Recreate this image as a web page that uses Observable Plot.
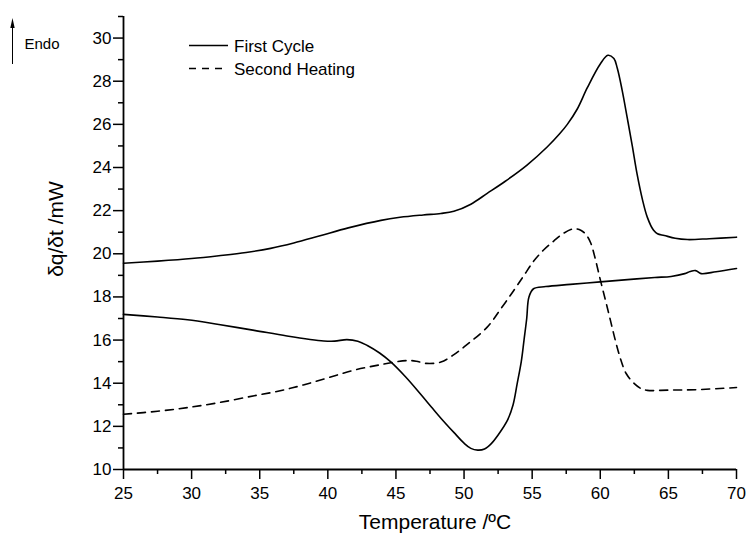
<!DOCTYPE html>
<html>
<head>
<meta charset="utf-8">
<script src="https://cdn.jsdelivr.net/npm/d3@7"></script>
<script src="https://cdn.jsdelivr.net/npm/@observablehq/plot@0.6"></script>
<style>
  html, body { margin: 0; padding: 0; background: #fff; }
  svg { display: block; }
</style>
</head>
<body>
<div id="chart"></div>
<script>
// Temperature (°C) / heat flow (mW) pairs
const firstCycleHeating = [
  [25,19.56],[27.5,19.66],[30,19.78],[32,19.91],[34,20.06],[35.8,20.25],[37.5,20.5],
  [39.5,20.85],[41.5,21.2],[43.9,21.55],[45.3,21.69],[47,21.8],[48.3,21.87],[49.25,21.97],
  [50.5,22.3],[51.7,22.8],[53,23.35],[54.6,24.1],[56.1,24.95],[57,25.55],[57.58,26.0],[58.3,26.7],
  [59.05,27.7],[60,28.8],[60.56,29.2],[61.0,29.05],[61.25,28.6],[61.6,27.6],[61.98,26.3],
  [62.35,25.0],[62.7,23.7],[63.1,22.5],[63.45,21.7],[63.9,21.1],[64.2,20.93],[64.7,20.85],
  [65.5,20.72],[66.4,20.66],[68,20.7],[70,20.77]
];
const firstCycleCooling = [
  [25,17.19],[27.5,17.07],[29.7,16.94],[32,16.72],[34.6,16.45],[37,16.19],[39.7,15.96],
  [40.5,15.95],[41.4,16.02],[42.2,15.95],[42.9,15.75],[43.8,15.4],[44.6,15.0],[45.7,14.3],
  [46.8,13.5],[47.6,12.9],[48.3,12.38],[49.25,11.72],[50,11.22],[50.5,10.98],[51,10.9],
  [51.5,10.95],[52,11.2],[52.5,11.6],[53.2,12.3],[53.6,13.0],[53.9,13.98],[54.2,15.0],[54.4,15.99],
  [54.6,17.0],[54.76,17.99],[55.1,18.38],[56,18.48],[57.8,18.58],[60,18.7],[62,18.8],
  [64,18.9],[65.2,18.95],[66.2,19.08],[66.6,19.18],[67,19.22],[67.4,19.08],[68.5,19.17],[70,19.32]
];
const secondHeating = [
  [25,12.56],[27.5,12.7],[29.7,12.87],[32,13.1],[34.6,13.42],[36.5,13.65],[38.2,13.92],
  [40,14.25],[41.9,14.6],[43.8,14.85],[45.8,15.05],[46.5,15.02],[47.2,14.92],[48.3,14.98],
  [49.2,15.3],[50,15.68],[51.7,16.6],[52.7,17.45],[53.65,18.3],[54.4,19.0],[55.1,19.65],
  [55.8,20.15],[56.6,20.6],[57.3,20.95],[58.06,21.16],[58.6,21.08],[59.0,20.85],[59.3,20.5],
  [59.6,19.85],[60,18.8],[60.4,17.8],[60.75,16.9],[61.1,16.0],[61.5,15.1],[61.9,14.45],
  [62.5,13.98],[63,13.75],[63.45,13.67],[65,13.68],[67,13.7],[70,13.8]
];

const xMajorTicks = [25,30,35,40,45,50,55,60,65,70];
const xMinorTicks = [27.5,32.5,37.5,42.5,47.5,52.5,57.5,62.5,67.5];
const yMajorTicks = [10,12,14,16,18,20,22,24,26,28,30];
const yMinorTicks = [11,13,15,17,19,21,23,25,27,29,31];

const xTitle = "Temperature /ºC";
const yTitle = "δq/δt /mW";
const legendLabels = ["First Cycle", "Second Heating"];
const endoLabel = "Endo";

const FONT = "'Liberation Sans', Arial, sans-serif";
const W = 748, H = 538;
const mL = 123, mR = 12, mT = 16, mB = 69;

const lineOpts = {x: d => d[0], y: d => d[1], stroke: "black", strokeWidth: 1.6, curve: "catmull-rom"};

const svg = Plot.plot({
  width: W, height: H,
  marginLeft: mL, marginRight: mR, marginTop: mT, marginBottom: mB,
  style: {fontFamily: FONT, background: "white", color: "black"},
  x: {domain: [25, 70], label: null},
  y: {domain: [10, 31], label: null},
  marks: [
    Plot.axisX({ticks: xMajorTicks, tickSize: 10, tickPadding: 7, fontSize: 17, strokeWidth: 1.5, label: null}),
    Plot.axisX({ticks: xMinorTicks, tickSize: 5, tickFormat: () => "", strokeWidth: 1.5, label: null}),
    Plot.axisY({ticks: yMajorTicks, tickSize: 10, tickPadding: 2, fontSize: 17, strokeWidth: 1.5, label: null}),
    Plot.axisY({ticks: yMinorTicks, tickSize: 5, tickFormat: () => "", strokeWidth: 1.5, label: null}),
    Plot.ruleX([25], {y1: 10, y2: 31, strokeWidth: 1.8}),
    Plot.ruleY([10], {x1: 25, x2: 70, strokeWidth: 1.8}),
    Plot.line(firstCycleHeating, lineOpts),
    Plot.line(firstCycleCooling, lineOpts),
    Plot.line(secondHeating, {...lineOpts, strokeDasharray: "8,6"})
  ]
});

const s = d3.select(svg);
// axis titles
s.append("text").attr("x", 435).attr("y", 529).attr("text-anchor", "middle")
  .attr("font-family", FONT).attr("font-size", 21).attr("fill", "black").text(xTitle);
s.append("text").attr("transform", "translate(63,229) rotate(-90)").attr("text-anchor", "middle")
  .attr("font-family", FONT).attr("font-size", 21).attr("fill", "black").text(yTitle);

// legend
const lg = s.append("g").attr("font-family", FONT).attr("font-size", 17).attr("fill", "black")
  .attr("text-anchor", "start");
lg.append("line").attr("x1", 189).attr("x2", 228).attr("y1", 45.5).attr("y2", 45.5)
  .attr("stroke", "black").attr("stroke-width", 1.6);
lg.append("text").attr("x", 234).attr("y", 52).attr("text-anchor", "start").text(legendLabels[0]);
lg.append("line").attr("x1", 189).attr("x2", 228).attr("y1", 68.5).attr("y2", 68.5)
  .attr("stroke", "black").attr("stroke-width", 1.6).attr("stroke-dasharray", "7,6");
lg.append("text").attr("x", 234).attr("y", 75).attr("text-anchor", "start").text(legendLabels[1]);

// Endo arrow
const eg = s.append("g").attr("text-anchor", "start");
eg.append("line").attr("x1", 12.5).attr("x2", 12.5).attr("y1", 64).attr("y2", 26)
  .attr("stroke", "black").attr("stroke-width", 1);
eg.append("path").attr("d", "M12.5,18 L10.3,28 L14.7,28 Z").attr("fill", "black");
eg.append("text").attr("x", 24.5).attr("y", 48.5).attr("text-anchor", "start").attr("font-family", FONT)
  .attr("font-size", 15).attr("fill", "black").text(endoLabel);

document.getElementById("chart").appendChild(svg);
</script>
</body>
</html>
